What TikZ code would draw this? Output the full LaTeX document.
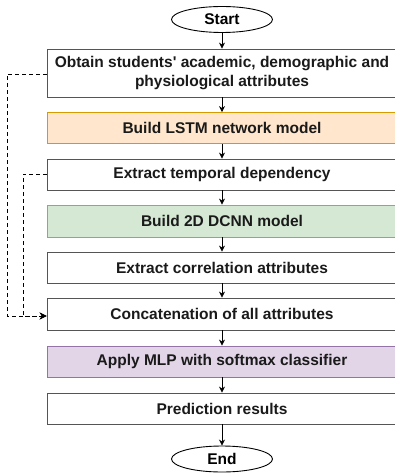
\documentclass[tikz,border=0pt]{standalone}
\usepackage{fontspec}
\setmainfont{Liberation Sans}[Ligatures=TeXOff]
\usetikzlibrary{arrows.meta,shapes.geometric}
\definecolor{boxline}{HTML}{555555}
\definecolor{orangefill}{HTML}{FFE6CC}
\definecolor{orangeline}{HTML}{D79B00}
\definecolor{greenfill}{HTML}{D5E8D4}
\definecolor{greenline}{HTML}{82B366}
\definecolor{purplefill}{HTML}{E1D5E7}
\definecolor{purpleline}{HTML}{9673A6}
\definecolor{txt}{HTML}{1A1A1A}
\begin{document}
\begin{tikzpicture}[x=1pt,y=-1pt,
  stepbox/.style={draw=boxline,line width=0.8pt,fill=white,minimum width=350pt,
    text=txt,font=\bfseries\fontsize{15.5}{18.5}\selectfont,align=center,inner sep=0pt},
  terminal/.style={ellipse,draw=black,line width=0.9pt,minimum width=101pt,minimum height=26pt,
    inner sep=0pt,font=\bfseries\fontsize{15.5}{18}\selectfont},
  flow/.style={-{Stealth[length=6pt,width=6pt]},line width=0.8pt},
  feed/.style={-{Stealth[length=7pt,width=7pt]},dashed,dash pattern=on 4pt off 3pt,line width=0.8pt}]
\useasboundingbox (0,0) rectangle (395,473);
\begin{scope}
\clip (0,0) rectangle (395,473);
\node[terminal] (start) at (222,19.5) {Start};
\node[stepbox,minimum height=48pt] (s1) at (222,73) {Obtain students' academic, demographic and\\physiological attributes};
\node[stepbox,minimum height=31pt,fill=orangefill,draw=orangeline] (s2) at (222,128) {Build LSTM network model};
\node[stepbox,minimum height=31pt] (s3) at (222,174.5) {Extract temporal dependency};
\node[stepbox,minimum height=32pt,fill=greenfill,draw=greenline] (s4) at (222,221) {Build 2D DCNN model};
\node[stepbox,minimum height=31pt] (s5) at (222,267.5) {Extract correlation attributes};
\node[stepbox,minimum height=32pt] (s6) at (222,314) {Concatenation of all attributes};
\node[stepbox,minimum height=31pt,fill=purplefill,draw=purpleline] (s7) at (222,361.5) {Apply MLP with softmax classifier};
\node[stepbox,minimum height=31pt] (s8) at (222,408.5) {Prediction results};
\node[terminal] (end) at (222,459) {End};
\end{scope}
\draw[flow] (start) -- (s1);
\draw[flow] (s1) -- (s2);
\draw[flow] (s2) -- (s3);
\draw[flow] (s3) -- (s4);
\draw[flow] (s4) -- (s5);
\draw[flow] (s5) -- (s6);
\draw[flow] (s6) -- (s7);
\draw[flow] (s7) -- (s8);
\draw[flow] (s8) -- (end);
\draw[feed] (s1.west |- 0,74) -- (7,74) -- (7,316) -- (s6.west |- 0,316);
\draw[feed] (s3.west |- 0,174) -- (23,174) -- (23,316) -- (s6.west |- 0,316);
\end{tikzpicture}
\end{document}
